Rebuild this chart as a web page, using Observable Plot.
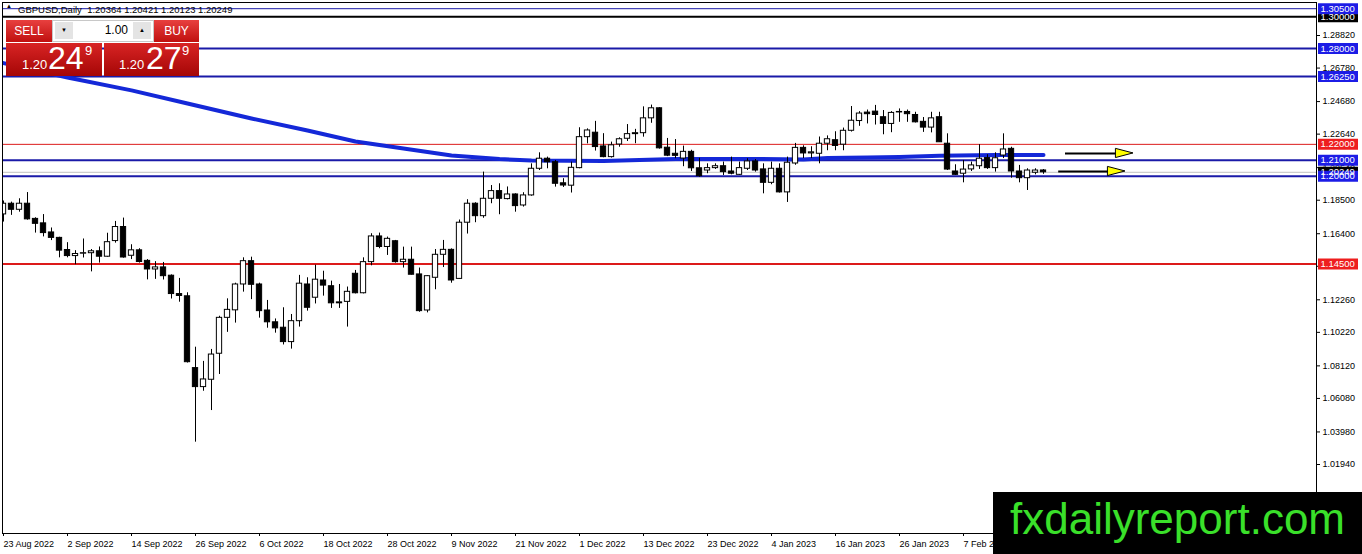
<!DOCTYPE html>
<html><head><meta charset="utf-8">
<script src="https://cdn.jsdelivr.net/npm/d3@7"></script>
<script src="https://cdn.jsdelivr.net/npm/@observablehq/plot@0.6"></script>
<style>
body{margin:0;background:#fff;font-family:"Liberation Sans",Arial,sans-serif;}
#wrap{position:relative;width:1362px;height:554px;overflow:hidden;background:#fff;}
#chart{position:absolute;left:0;top:0;}
.abs{position:absolute;white-space:nowrap;}
.btn{position:absolute;background:linear-gradient(#e8403f,#c0100f);color:#fff;font-size:12px;text-align:center;line-height:22px;height:22px;}
.pbox{position:absolute;background:linear-gradient(#d82424,#a50606);color:#fff;height:33px;}
</style></head><body>
<div id="wrap">
<div id="chart"></div>
<div class="abs" style="left:6px;top:3px;font-size:6px;color:#000;">▲</div>
<div class="abs" style="left:18px;top:4px;font-size:9.5px;color:#000;">GBPUSD,Daily&nbsp; 1.20364 1.20421 1.20123 1.20249</div>
<div class="btn" style="left:6px;top:20px;width:46px;">SELL</div>
<div class="abs" style="left:52px;top:20px;width:100px;height:20px;background:#fff;border:1px solid #c8c8c8;"></div>
<div class="abs" style="left:55px;top:22px;width:18px;height:17px;background:#e4e4e4;font-size:6px;text-align:center;line-height:17px;color:#000;">▼</div>
<div class="abs" style="left:78px;top:21px;width:50px;font-size:12px;text-align:right;line-height:19px;color:#000;">1.00</div>
<div class="abs" style="left:133px;top:22px;width:18px;height:17px;background:#e4e4e4;font-size:6px;text-align:center;line-height:17px;color:#000;">▲</div>
<div class="btn" style="left:154px;top:20px;width:45px;">BUY</div>
<div class="pbox" style="left:6px;top:43px;width:96px;"></div>
<div class="pbox" style="left:104px;top:43px;width:95px;"></div>
<div class="abs" style="left:22px;top:57px;font-size:13px;color:#fff;">1.20</div>
<div class="abs" style="left:48px;top:40px;font-size:32px;color:#fff;">24</div>
<div class="abs" style="left:85px;top:43px;font-size:13px;color:#fff;">9</div>
<div class="abs" style="left:119px;top:57px;font-size:13px;color:#fff;">1.20</div>
<div class="abs" style="left:146px;top:40px;font-size:32px;color:#fff;">27</div>
<div class="abs" style="left:182px;top:43px;font-size:13px;color:#fff;">9</div>
<div class="abs" style="left:993px;top:492px;width:369px;height:62px;background:#000;"></div>
<div class="abs" style="left:1010px;top:497px;font-size:44px;line-height:44px;color:#3ae02a;">fxdailyreport.com</div>
</div>
<script>
// ---- data (candle index 0 = 23 Aug 2022, one per weekday) ----
const opens = [1.1761,1.1828,1.1790,1.1828,1.1733,1.1705,1.1648,1.1614,1.1538,1.1500,1.1515,1.1518,1.1530,1.1496,1.1594,1.1682,1.1502,1.1536,1.1470,1.1416,1.1429,1.1377,1.1262,1.1248,1.0798,1.0679,1.0725,1.0888,1.1113,1.1160,1.1322,1.1468,1.1322,1.1159,1.1085,1.1051,1.0961,1.1092,1.1322,1.1239,1.1347,1.1311,1.1204,1.1213,1.1389,1.1267,1.1462,1.1623,1.1557,1.1593,1.1462,1.1477,1.1385,1.1159,1.1364,1.1508,1.1539,1.1357,1.1709,1.1828,1.1750,1.1859,1.1907,1.1857,1.1886,1.1817,1.1880,1.2047,1.2110,1.2088,1.1956,1.1941,1.2051,1.2245,1.2273,1.2187,1.2120,1.2199,1.2235,1.2264,1.2270,1.2363,1.2426,1.2179,1.2141,1.2111,1.2153,1.2050,1.2036,1.2051,1.2063,1.2030,1.2009,1.2047,1.2093,1.2043,1.1959,1.2047,1.1899,1.2080,1.2178,1.2143,1.2141,1.2204,1.2226,1.2198,1.2285,1.2346,1.2399,1.2405,1.2370,1.2328,1.2400,1.2403,1.2384,1.2341,1.2305,1.2370,1.2204,1.2030,1.2016,1.2043,1.2063,1.2114,1.2051,1.2130,1.2172,1.2030,1.1988,1.2022,1.20364];
const highs = [1.1845,1.1838,1.1859,1.1898,1.1740,1.1760,1.1676,1.1618,1.1584,1.1534,1.1607,1.1541,1.1557,1.1643,1.1717,1.1738,1.1571,1.1546,1.1478,1.1465,1.1460,1.1382,1.1360,1.1270,1.0929,1.0840,1.0915,1.1123,1.1232,1.1330,1.1489,1.1493,1.1330,1.1222,1.1106,1.1176,1.1134,1.1379,1.1364,1.1443,1.1405,1.1343,1.1322,1.1306,1.1410,1.1489,1.1640,1.1644,1.1619,1.1598,1.1556,1.1556,1.1425,1.1378,1.1541,1.1598,1.1545,1.1726,1.1853,1.1834,1.2026,1.1942,1.1953,1.1933,1.1890,1.1897,1.2078,1.2147,1.2120,1.2099,1.1985,1.2089,1.2304,1.2297,1.2344,1.2267,1.2214,1.2241,1.2324,1.2294,1.2435,1.2446,1.2430,1.2237,1.2230,1.2189,1.2163,1.2113,1.2078,1.2078,1.2089,1.2120,1.2089,1.2110,1.2105,1.2078,1.2089,1.2078,1.2120,1.2206,1.2191,1.2185,1.2246,1.2253,1.2279,1.2302,1.2437,1.2405,1.2415,1.2444,1.2412,1.2405,1.2422,1.2415,1.2401,1.2368,1.2401,1.2401,1.2266,1.2072,1.2099,1.2089,1.2198,1.2135,1.2147,1.2266,1.2182,1.2068,1.2047,1.2047,1.20421];
const lows = [1.1713,1.1755,1.1775,1.1725,1.1644,1.1620,1.1597,1.1489,1.1489,1.1446,1.1488,1.1401,1.1456,1.1493,1.1581,1.1487,1.1478,1.1456,1.1351,1.1354,1.1350,1.1231,1.1211,1.0830,1.0334,1.0653,1.0532,1.0758,1.1022,1.1080,1.1274,1.1227,1.1111,1.1048,1.1017,1.0943,1.0917,1.1055,1.1155,1.1200,1.1249,1.1172,1.1172,1.1055,1.1263,1.1263,1.1439,1.1546,1.1504,1.1456,1.1425,1.1381,1.1148,1.1144,1.1289,1.1428,1.1330,1.1355,1.1638,1.1709,1.1737,1.1828,1.1759,1.1852,1.1775,1.1807,1.1875,1.2036,1.2047,1.1932,1.1930,1.1895,1.2047,1.2203,1.2158,1.2116,1.2114,1.2182,1.2218,1.2204,1.2245,1.2332,1.2170,1.2123,1.2110,1.2060,1.2030,1.1994,1.2016,1.2043,1.2005,1.2009,1.2005,1.2036,1.2026,1.1890,1.1947,1.1895,1.1836,1.2069,1.2111,1.2111,1.2078,1.2160,1.2160,1.2160,1.2277,1.2313,1.2328,1.2321,1.2260,1.2273,1.2338,1.2338,1.2334,1.2275,1.2272,1.2213,1.2036,1.2005,1.1959,1.2030,1.2043,1.2043,1.2026,1.2111,1.1988,1.1959,1.1911,1.2009,1.20123];
const closes = [1.1828,1.1790,1.1828,1.1730,1.1702,1.1644,1.1614,1.1534,1.1500,1.1513,1.1518,1.1530,1.1496,1.1587,1.1682,1.1491,1.1536,1.1463,1.1416,1.1429,1.1374,1.1262,1.1250,1.0835,1.0679,1.0727,1.0883,1.1113,1.1163,1.1322,1.1468,1.1320,1.1155,1.1085,1.1047,1.0961,1.1092,1.1327,1.1176,1.1352,1.1315,1.1204,1.1210,1.1276,1.1267,1.1462,1.1623,1.1557,1.1608,1.1462,1.1477,1.1383,1.1155,1.1374,1.1508,1.1539,1.1347,1.1709,1.1828,1.1750,1.1859,1.1907,1.1859,1.1886,1.1813,1.1880,1.2047,1.2110,1.2088,1.1953,1.1942,1.2053,1.2245,1.2287,1.2183,1.2120,1.2194,1.2232,1.2264,1.2270,1.2363,1.2426,1.2175,1.2129,1.2128,1.2153,1.2050,1.2001,1.2051,1.2063,1.2026,1.2016,1.2051,1.2093,1.2036,1.1959,1.2047,1.1899,1.2085,1.2178,1.2143,1.2150,1.2204,1.2232,1.2190,1.2285,1.2348,1.2393,1.2389,1.2384,1.2328,1.2397,1.2403,1.2389,1.2338,1.2305,1.2363,1.2213,1.2042,1.2009,1.2042,1.2068,1.2110,1.2051,1.2113,1.2168,1.2030,1.1988,1.2036,1.2036,1.20249];

// moving average line, read at selected candles
const maIdx  = [0,8,16,23,31,38,44,50,56,62,66,75,84,94,100,103,108,112,117,124,130];
const maVals = [1.2709,1.2619,1.2538,1.2456,1.2362,1.2287,1.2218,1.2174,1.2130,1.2108,1.2099,1.2096,1.2108,1.2108,1.2105,1.2115,1.2117,1.2120,1.2128,1.2133,1.2133];

// horizontal levels
const levelPrices = [1.30000,1.30500,1.28000,1.26250,1.22000,1.21000,1.20000,1.14500];
const levelKinds  = ["black","blue","blue","blue","red","blue","blue","red"];
const levelWidths = [2,1,2,2,1,2,2,2];
const bidPrice = 1.20249;

// arrows (start candle, end of shaft, tip, price)
const arrowStart = [132.75,131.9];
const arrowShaftEnd = [139.1,138.1];
const arrowTip = [141.25,140.25];
const arrowPrice = [1.2143,1.2030];

// axes
const yTicks = [1.28820,1.26780,1.24680,1.22640,1.20540,1.18500,1.16400,1.14360,1.12260,1.10220,1.08120,1.06080,1.03980,1.01940];
const xTickIdx = [0,8,16,24,32,40,48,56,64,72,80,88,96,104,112,120,128];
const xTickLabels = ["23 Aug 2022","2 Sep 2022","14 Sep 2022","26 Sep 2022","6 Oct 2022","18 Oct 2022","28 Oct 2022","9 Nov 2022","21 Nov 2022","1 Dec 2022","13 Dec 2022","23 Dec 2022","4 Jan 2023","16 Jan 2023","26 Jan 2023","7 Feb 2023","17 Feb 2023"];

// ---- build ----
const candles = opens.map((o,i)=>({i, o, h:highs[i], l:lows[i], c:closes[i]}));
const ma = maIdx.map((i,k)=>({i, v:maVals[k]}));
const lineColor = {black:"#000", blue:"#1a1aa8", red:"#dc1a1a"};
const boxColor  = {black:"#000", blue:"#1c1ce6", red:"#ee1e1e"};
const levels = levelPrices.map((p,k)=>({p, kind:levelKinds[k], w:levelWidths[k]}));
const labelOrder = [{p:bidPrice, kind:"black"}, ...levels.filter(d=>d.p!==1.305 && d.p!==1.2), {p:1.2, kind:"blue"}, {p:1.305, kind:"blue"}];
const arrows = arrowStart.map((s,k)=>({s, e:arrowShaftEnd[k], t:arrowTip[k], p:arrowPrice[k]}));
const headHalf = 4.5/1596;
const heads = arrows.flatMap((a,k)=>[{k, x:a.e, y1:a.p-headHalf, y2:a.p+headHalf},{k, x:a.t, y1:a.p, y2:a.p}]);
const tickLabel = new Map(xTickIdx.map((d,k)=>[d, xTickLabels[k]]));

const xDomain = [-0.125, 164.125];
const yDomain = [0.97617, 1.30888];
const bx1 = xDomain[1]+0.25, bx2 = xDomain[1]+5.25, tx = xDomain[1]+0.5;

const chart = Plot.plot({
  width:1362, height:554, marginLeft:2, marginRight:46, marginTop:2, marginBottom:21,
  x:{domain:xDomain, axis:null},
  y:{domain:yDomain, axis:null},
  style:{fontFamily:"Liberation Sans, Arial, sans-serif", fontSize:"9px", background:"#fff", color:"#000"},
  marks:[
    Plot.ruleY([bidPrice], {stroke:"#c0c0c0", strokeWidth:1, clip:true}),
    Plot.ruleY(levels, {y:"p", stroke:d=>lineColor[d.kind], strokeWidth:d=>d.w, clip:true}),
    Plot.line(ma, {x:"i", y:"v", stroke:"#1428d8", strokeWidth:4, clip:true}),
    Plot.ruleX(candles, {x:"i", y1:"l", y2:"h", stroke:"#000", strokeWidth:1, clip:true}),
    Plot.rect(candles, {x1:d=>d.i-0.33, x2:d=>d.i+0.33, y1:"o", y2:"c", fill:d=>d.c>=d.o?"#fff":"#000", stroke:"#000", strokeWidth:1, clip:true}),
    Plot.ruleY(arrows, {y:"p", x1:"s", x2:"e", stroke:"#000", strokeWidth:2}),
    Plot.areaY(heads, {x:"x", y1:"y1", y2:"y2", z:"k", fill:"#ffff00", stroke:"#000", strokeWidth:1}),
    Plot.frame({stroke:"#000"}),
    Plot.axisX({anchor:"bottom", ticks:xTickIdx, tickFormat:d=>tickLabel.get(d), tickSize:3, tickPadding:4, textAnchor:"start", dx:0, fontSize:9, fill:"#000"}),
    Plot.axisY({anchor:"right", ticks:yTicks, tickFormat:d=>d.toFixed(5), tickSize:3, tickPadding:3, fontSize:9, fill:"#000"}),
    Plot.ruleY(labelOrder, {y:"p", x1:bx1, x2:bx2, stroke:d=>boxColor[d.kind], strokeWidth:11}),
    Plot.text(labelOrder, {y:"p", x:tx, text:d=>d.p.toFixed(5), fill:"#fff", textAnchor:"start", fontSize:9.5})
  ]
});
document.getElementById("chart").appendChild(chart);
</script>
</body></html>
